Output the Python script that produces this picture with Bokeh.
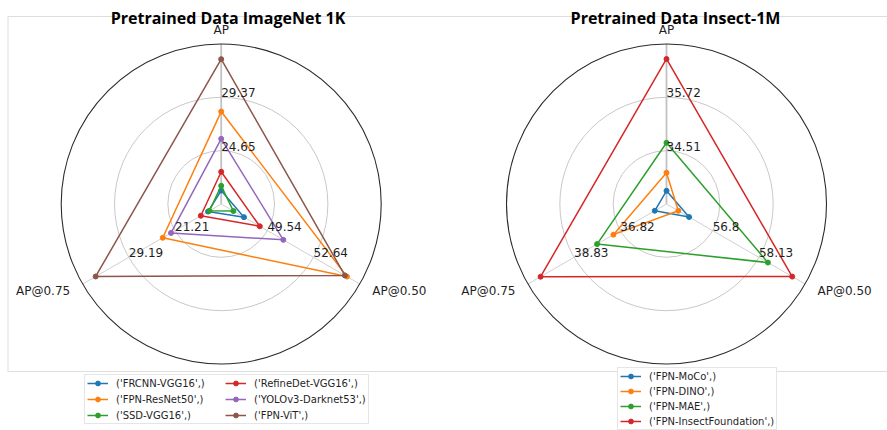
import numpy as np
from bokeh.plotting import figure
from bokeh.models import Range1d, Legend, LegendItem
from bokeh.core.properties import value
from bokeh.embed import file_html
from bokeh.resources import INLINE

# ---------------- data ----------------
metrics = ["AP", "AP@0.50", "AP@0.75"]

models_in = ["FRCNN-VGG16", "FPN-ResNet50", "SSD-VGG16",
             "RefineDet-VGG16", "YOLOv3-Darknet53", "FPN-ViT"]
ap_in = [21.12, 28.11, 21.54, 22.78, 25.70, 32.75]
ap50_in = [47.97, 54.88, 47.26, 49.03, 50.61, 54.74]
ap75_in = [15.50, 23.33, 15.27, 16.75, 21.90, 34.92]
ticks_in_ap = [24.65, 29.37]
ticks_in_ap50 = [49.54, 52.64]
ticks_in_ap75 = [21.21, 29.19]

models_ins = ["FPN-MoCo", "FPN-DINO", "FPN-MAE", "FPN-InsectFoundation"]
ap_ins = [33.60, 34.01, 34.69, 36.59]
ap50_ins = [56.12, 55.81, 58.39, 59.09]
ap75_ins = [35.32, 37.12, 37.83, 40.29]
ticks_ins_ap = [34.51, 35.72]
ticks_ins_ap50 = [56.8, 58.13]
ticks_ins_ap75 = [36.82, 38.83]

colors = ["#1f77b4", "#ff7f0e", "#2ca02c", "#d62728", "#9467bd", "#8c564b"]

# ---------------- layout ----------------
W, H = 887, 430
R = 160.0
CY = 203.5
ANG = np.deg2rad([90.0, -30.0, 210.0])
TXT = "#1f1f1f"

p = figure(width=W, height=H, x_range=Range1d(0, W), y_range=Range1d(H, 0),
           output_backend="svg", toolbar_location=None, min_border=0,
           x_axis_type=None, y_axis_type=None)
p.grid.visible = False
p.outline_line_color = None
p.background_fill_color = "white"
p.border_fill_color = "white"

# light frame around the chart area
p.multi_line(xs=[[7, 890], [7.5, 7.5], [7, 890]], ys=[[16, 16], [16, 371], [371, 371]],
             line_color="#dedede", line_width=1)


def rad(v, ticks):
    return (1.0 + (v - ticks[0]) / (ticks[1] - ticks[0])) / 3.0


def radar(cx, models, cols, ticks, title, title_x, legend_loc, ncols, spacing, label_w):
    cy = CY
    # grid circles
    p.circle(x=[cx, cx], y=[cy, cy], radius=[R / 3, 2 * R / 3], fill_color=None,
             line_color="#c8c8c8", line_width=1)
    # spokes
    for k, a in enumerate(ANG):
        p.line([cx, cx + R * np.cos(a)], [cy, cy - R * np.sin(a)],
               line_color="#c2c2c2" if k == 0 else "#d0d0d0",
               line_width=1.8 if k == 0 else 1)
    p.circle(x=[cx], y=[cy], radius=[R], fill_color=None, line_color="#2b2b2b", line_width=1.1)

    items = []
    for i, m in enumerate(models):
        vals = [cols[j][i] for j in range(3)]
        rr = [rad(vals[j], ticks[j]) for j in range(3)]
        xs = [cx + R * rr[j] * np.cos(ANG[j]) for j in range(3)]
        ys = [cy - R * rr[j] * np.sin(ANG[j]) for j in range(3)]
        lr = p.line(xs + [xs[0]], ys + [ys[0]], line_color=colors[i], line_width=1.5)
        sr = p.scatter(xs, ys, size=5, fill_color=colors[i], line_color=colors[i])
        items.append(LegendItem(label=f"('{m}',)", renderers=[lr, sr]))

    # tick labels along each spoke
    for j in range(3):
        for k, t in enumerate(ticks[j]):
            r = (k + 1) / 3.0
            p.text(x=[cx + R * r * np.cos(ANG[j])], y=[cy - R * r * np.sin(ANG[j])],
                   text=[str(t)], text_align="left", text_baseline="bottom",
                   text_font=value("DejaVu Sans"), text_font_size="12px", text_color=TXT)

    # metric labels
    aligns = ["center", "left", "right"]
    for j in range(3):
        rl = R * 1.09
        p.text(x=[cx + rl * np.cos(ANG[j])], y=[cy - rl * np.sin(ANG[j])],
               text=[metrics[j]], text_align=aligns[j], text_baseline="middle",
               text_font=value("DejaVu Sans"), text_font_size="12px", text_color=TXT)

    # title
    p.text(x=[title_x], y=[17.5], text=[title], text_align="center",
           text_baseline="alphabetic", text_font=value("Open Sans"),
           text_font_style="bold", text_font_size="16px", text_color="black")

    leg = Legend(items=items, location=legend_loc, ncols=ncols, orientation="vertical",
                 label_text_font="DejaVu Sans", label_text_font_size="10px",
                 label_text_color=TXT, glyph_width=21, glyph_height=12,
                 label_height=12, label_width=label_w, label_standoff=8,
                 spacing=spacing, padding=2, margin=0,
                 border_line_color="#cccccc", border_line_width=1,
                 background_fill_color="white", background_fill_alpha=1.0)
    p.add_layout(leg)


radar(220.7, models_in, [ap_in, ap50_in, ap75_in],
      [ticks_in_ap, ticks_in_ap50, ticks_in_ap75],
      "Pretrained Data ImageNet 1K", 227.5, (84, 6), 2, 4, 105)
radar(666.0, models_ins, [ap_ins, ap50_ins, ap75_ins],
      [ticks_ins_ap, ticks_ins_ap50, ticks_ins_ap75],
      "Pretrained Data Insect-1M", 675.0, (617, 0), 1, 3, 20)

open("out.html", "w").write(file_html(p, INLINE))
